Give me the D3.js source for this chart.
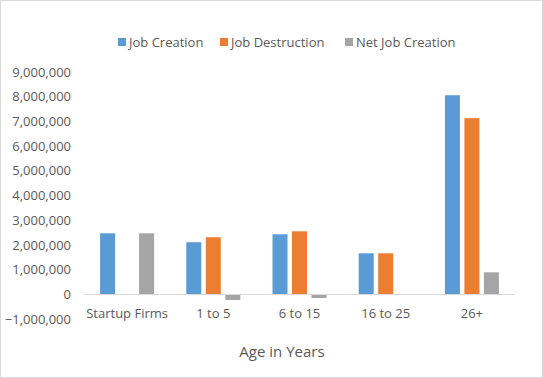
<!DOCTYPE html>
<html>
<head>
<meta charset="utf-8">
<script src="https://cdn.jsdelivr.net/npm/d3@7/dist/d3.min.js"></script>
<style>
  body { margin: 0; background: #fff; }
  svg { display: block; font-family: "Open Sans", "Noto Sans", sans-serif; }
</style>
</head>
<body>
<div id="chart"></div>
<script>
// Data
var categories = ["Startup Firms", "1 to 5", "6 to 15", "16 to 25", "26+"];
var series = ["Job Creation", "Job Destruction", "Net Job Creation"];
var jobCreation    = [2470000, 2110000, 2430000, 1660000, 8060000];
var jobDestruction = [0, 2310000, 2550000, 1660000, 7130000];
var netJobCreation = [2470000, -230000, -150000, 0, 890000];
var yTicks = [-1000000, 0, 1000000, 2000000, 3000000, 4000000, 5000000, 6000000, 7000000, 8000000, 9000000];
var colors = ["#5B9BD5", "#ED7D31", "#A5A5A5"];

var values = [jobCreation, jobDestruction, netJobCreation];

var width = 543, height = 378;
var margin = {top: 72, right: 28, bottom: 59, left: 84};

var svg = d3.select("#chart").append("svg")
    .attr("width", width)
    .attr("height", height);

// outer border
svg.append("rect")
    .attr("x", 0.5).attr("y", 0.5)
    .attr("width", width - 1).attr("height", height - 1)
    .attr("fill", "#fff")
    .attr("stroke", "#d9d9d9");

var x0 = d3.scaleBand()
    .domain(categories)
    .range([margin.left, width - margin.right]);

var x1 = d3.scaleBand()
    .domain(series)
    .range([0, 54])
    .paddingInner(4.5 / 19.5);

var y = d3.scaleLinear()
    .domain([yTicks[0], yTicks[yTicks.length - 1]])
    .range([height - margin.bottom, margin.top]);

// y axis labels (no line, no ticks)
var yAxis = d3.axisLeft(y)
    .tickValues(yTicks)
    .tickSize(0)
    .tickPadding(0)
    .tickFormat(d3.format(","));

var gy = svg.append("g")
    .attr("transform", "translate(71,0)")
    .call(yAxis);
gy.select(".domain").remove();
gy.selectAll("text")
    .attr("fill", "#595959")
    .style("font-size", "13px")
    .style("font-family", "Open Sans, sans-serif");

// bars
var groups = svg.selectAll("g.cat")
    .data(categories)
    .enter().append("g")
    .attr("class", "cat")
    .attr("transform", function(d) {
        return "translate(" + (x0(d) + x0.bandwidth() / 2 - 27) + ",0)";
    });

groups.selectAll("rect")
    .data(function(d, i) {
        return series.map(function(s, j) { return {s: s, j: j, v: values[j][i]}; });
    })
    .enter().append("rect")
    .attr("x", function(d) { return x1(d.s); })
    .attr("width", x1.bandwidth())
    .attr("y", function(d) { return y(Math.max(0, d.v)); })
    .attr("height", function(d) { return Math.abs(y(d.v) - y(0)); })
    .attr("fill", function(d) { return colors[d.j]; });

// zero line
svg.append("line")
    .attr("x1", margin.left).attr("x2", width - margin.right)
    .attr("y1", Math.round(y(0)) + 0.5).attr("y2", Math.round(y(0)) + 0.5)
    .attr("stroke", "#d9d9d9");

// category labels
var xAxis = d3.axisBottom(x0).tickSize(0).tickPadding(0);
var gx = svg.append("g")
    .attr("transform", "translate(0," + 313 + ")")
    .call(xAxis);
gx.select(".domain").remove();
gx.selectAll("text")
    .attr("fill", "#595959")
    .attr("dy", "0.35em")
    .attr("y", 0)
    .style("font-size", "13px")
    .style("font-family", "Open Sans, sans-serif");

// axis title
svg.append("text")
    .attr("x", 282)
    .attr("y", 357)
    .attr("text-anchor", "middle")
    .attr("fill", "#595959")
    .style("font-size", "15px")
    .text("Age in Years");

// legend
var legendX = [118, 220, 345];
var legend = svg.selectAll("g.legend")
    .data(series)
    .enter().append("g")
    .attr("class", "legend")
    .attr("transform", function(d, i) { return "translate(" + legendX[i] + ",38)"; });

legend.append("rect")
    .attr("width", 8).attr("height", 8)
    .attr("fill", function(d, i) { return colors[i]; });

legend.append("text")
    .attr("x", 11)
    .attr("y", 4)
    .attr("dy", "0.35em")
    .attr("fill", "#595959")
    .style("font-size", "13px")
    .text(function(d) { return d; });
</script>
</body>
</html>
